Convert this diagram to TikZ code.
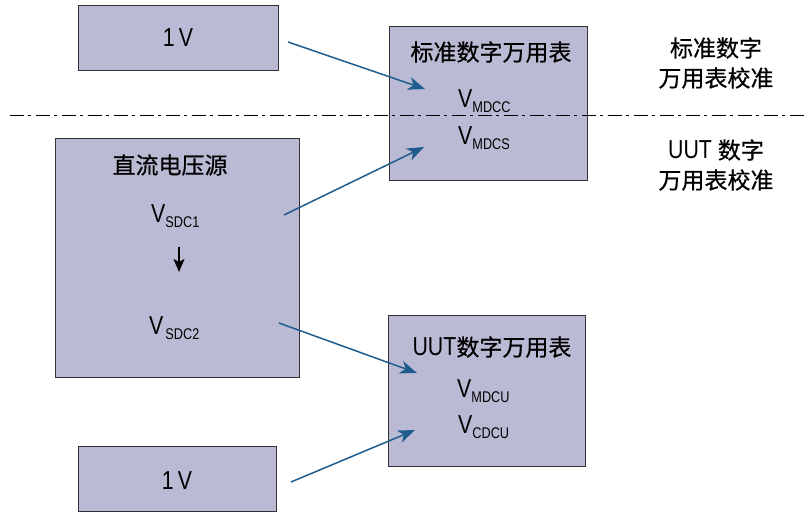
\documentclass[tikz,border=0pt]{standalone}
\usepackage{fontspec}
\setmainfont{Liberation Sans}[FakeStretch=0.82]
\newfontfamily\cjk{Noto Sans CJK SC}[FakeBold=0.5]
\usetikzlibrary{arrows.meta}
\definecolor{boxfill}{RGB}{186,186,212}
\definecolor{boxline}{RGB}{50,50,55}
\definecolor{arrowblue}{RGB}{30,92,142}
\newcommand{\lat}{\fontsize{26}{30}\selectfont}
\newcommand{\subsz}{\fontsize{15.5}{17}\selectfont}
\newcommand{\zh}{\cjk\fontsize{23}{27}\selectfont}
\newcommand{\VV}[1]{{\lat V}\raisebox{-5pt}{\subsz #1}}
\begin{document}
\begin{tikzpicture}[x=1pt,y=-1pt,
  blk/.style={draw=boxline,line width=1.2pt,fill=boxfill,inner sep=0pt,anchor=north west},
  lbl/.style={inner sep=0pt},
  vlbl/.style={inner sep=0pt,anchor=base west},
  feed/.style={draw=arrowblue,line width=1.5pt,-{Stealth[length=17pt,width=13pt,inset=5pt]}},
  stepdown/.style={draw=black,line width=1.4pt,-{Stealth[length=13pt,width=11pt,inset=3pt]}},
  sep/.style={draw=black,line width=1pt,dash pattern=on 14pt off 4pt on 3pt off 5pt}
]
\useasboundingbox (0,0) rectangle (804,512);

% boxes
\node[blk,minimum width=200pt,minimum height=65pt] (ref1) at (78,5) {};
\node[blk,minimum width=198pt,minimum height=154pt] (std) at (389,26) {};
\node[blk,minimum width=244pt,minimum height=239pt] (src) at (55,138) {};
\node[blk,minimum width=197pt,minimum height=151pt] (uut) at (388,315) {};
\node[blk,minimum width=198pt,minimum height=65pt] (ref2) at (78,446) {};

% separator
\coordinate (sepL) at (10,115);
\coordinate (sepR) at (804,115);
\draw[sep] (sepL) -- (sepR);

% texts
\node[lbl] (t1v) at (178,38) {\lat 1\,V};
\node[lbl] (tstd) at (491,52) {\zh 标准数字万用表};
\node[vlbl] (vmdcc) at (458,107) {\VV{MDCC}};
\node[vlbl] (vmdcs) at (458,144) {\VV{MDCS}};
\node[lbl] (tsrc) at (170,165) {\zh 直流电压源};
\node[vlbl] (vsdc1) at (151,222) {\VV{SDC1}};
\node[vlbl] (vsdc2) at (149,334) {{\lat V}\hspace{2pt}\raisebox{-5pt}{\subsz SDC2}};
\node[lbl] (tuut) at (492,347) {{\lat UUT}\zh 数字万用表};
\node[vlbl] (vmdcu) at (457,397) {\VV{MDCU}};
\node[vlbl] (vcdcu) at (458,433) {\VV{CDCU}};
\node[lbl] (t1v2) at (177,481) {\lat 1\,V};

\node[lbl] (r1a) at (716,48) {\zh 标准数字};
\node[lbl] (r1b) at (716,78) {\zh 万用表校准};
\node[lbl] (r2a) at (716,150) {{\lat UUT\ }\zh 数字};
\node[lbl] (r2b) at (716,180) {\zh 万用表校准};

% arrow coordinates
\coordinate (a1s) at (288,42);  \coordinate (a1e) at (425,89);
\coordinate (a2s) at (284,215); \coordinate (a2e) at (424,147);
\coordinate (a3s) at (279,323); \coordinate (a3e) at (417,373);
\coordinate (a4s) at (291,482); \coordinate (a4e) at (415,430);
\coordinate (d1) at (179,247);  \coordinate (d2) at (179,272);

\draw[feed] (a1s) -- (a1e);
\draw[feed] (a2s) -- (a2e);
\draw[feed] (a3s) -- (a3e);
\draw[feed] (a4s) -- (a4e);
\draw[stepdown] (d1) -- (d2);
\end{tikzpicture}
\end{document}
